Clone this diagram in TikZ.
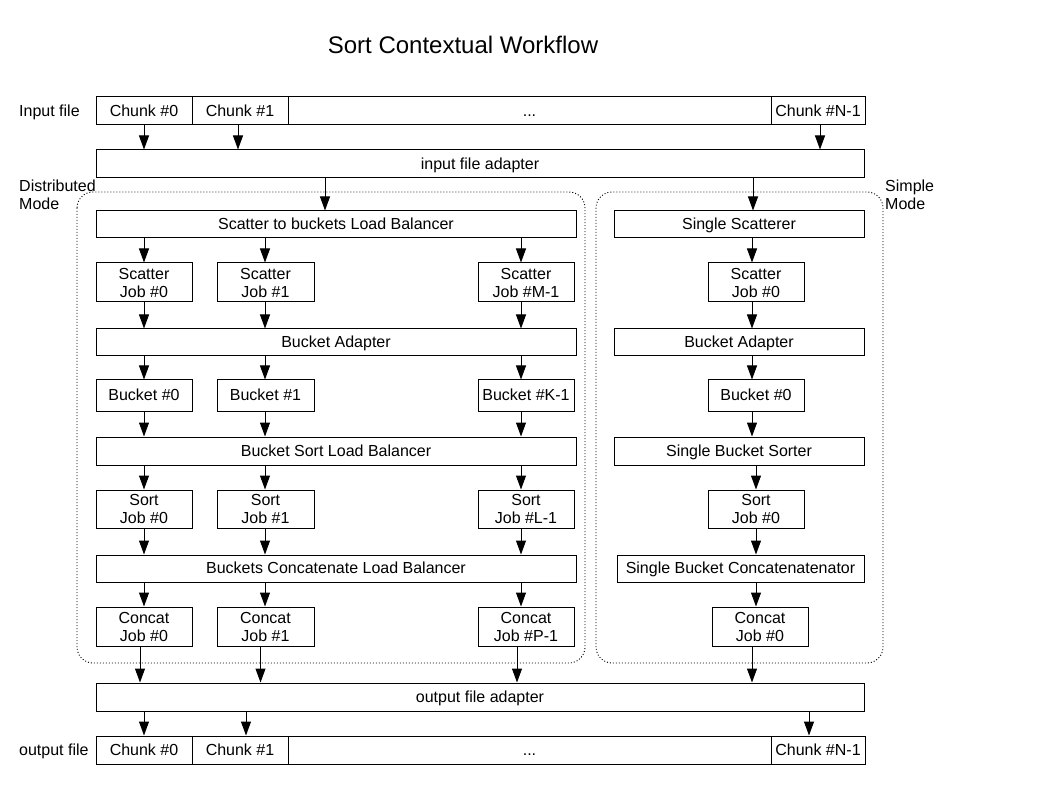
\documentclass[tikz,border=0pt]{standalone}
\usepackage{fontspec}
\setmainfont{Liberation Sans}
\usetikzlibrary{arrows.meta}
\newcommand\bx[6]{\node[box, minimum width=#4pt, minimum height=#5pt] (#1) at (#2,#3) {#6};}
\newcommand\bxs[6]{\node[box, oneline, minimum width=#4pt, minimum height=#5pt] (#1) at (#2,#3) {#6};}
% arrow from source south to target north, x relative to target
\newcommand\dnT[3]{\path ([xshift=#3pt]#2.north) coordinate (tmpc); \draw[arr] (tmpc |- #1.south) -- (tmpc);}
% arrow from source south to target north, x relative to source
\newcommand\dnS[3]{\path ([xshift=#3pt]#1.south) coordinate (tmpc); \draw[arr] (tmpc) -- (tmpc |- #2.north);}
\begin{document}
\begin{tikzpicture}[x=1pt,y=-1pt,
  box/.style={draw, line width=1pt, inner sep=0pt, align=center, font=\fontsize{16}{18}\selectfont},
  oneline/.style={text height=12.5pt, text depth=2pt},
  lbl/.style={inner sep=0pt, font=\fontsize{16}{18}\selectfont, anchor=base west},
  arr/.style={line width=1pt, -{Triangle[length=14pt,width=10pt]}},
  modebox/.style={line width=0.9pt, dash pattern=on 1pt off 2pt, rounded corners=16pt}]
\fill[white] (0,0) rectangle (1058,794);
\useasboundingbox (0,0) rectangle (1058,794);

\node[inner sep=0pt, font=\fontsize{24}{28}\selectfont] (title) at (463,45) {Sort Contextual Workflow};

% mode boxes
\draw[modebox] (77,192) rectangle (585,663);
\draw[modebox] (596,192) rectangle (883,663);
\node[lbl] (dmode1) at (19,191.7) {Distributed};
\node[lbl] (dmode2) at (19,209.5) {Mode};
\node[lbl] (smode1) at (885,191.7) {Simple};
\node[lbl] (smode2) at (885,209.5) {Mode};

% input row
\node[lbl] (inlbl) at (19,116.5) {Input file};
\bxs{in0}{144}{111}{96}{28}{Chunk \#0}
\bxs{in1}{240}{111}{96}{28}{Chunk \#1}
\bxs{indots}{529.5}{111}{483}{28}{...}
\bxs{inN}{818}{111}{94}{28}{Chunk \#N-1}
\bxs{iad}{480}{164}{768}{28}{input file adapter}

% distributed column
\bxs{slb}{336}{224.5}{480}{27}{Scatter to buckets Load Balancer}
\bx{sj0}{144}{282.5}{96}{39}{Scatter\\Job \#0}
\bx{sj1}{265.5}{282.5}{97}{39}{Scatter\\Job \#1}
\bx{sjM}{526}{282.5}{96}{39}{Scatter\\Job \#M-1}
\bxs{ba}{336}{342.5}{480}{27}{Bucket Adapter}
\bxs{b0}{144}{395.5}{96}{31}{Bucket \#0}
\bxs{b1}{265.5}{395.5}{97}{31}{Bucket \#1}
\bxs{bK}{526}{395.5}{96}{31}{Bucket \#K-1}
\bxs{bslb}{336}{451}{480}{28}{Bucket Sort Load Balancer}
\bx{so0}{144}{509}{96}{38}{Sort\\Job \#0}
\bx{so1}{265.5}{509}{97}{38}{Sort\\Job \#1}
\bx{soL}{526}{509}{96}{38}{Sort\\Job \#L-1}
\bxs{clb}{336}{568.5}{480}{27}{Buckets Concatenate Load Balancer}
\bx{cj0}{144}{626.5}{96}{39}{Concat\\Job \#0}
\bx{cj1}{265.5}{626.5}{97}{39}{Concat\\Job \#1}
\bx{cjP}{526}{626.5}{96}{39}{Concat\\Job \#P-1}

% simple column
\bxs{ss}{739}{224.5}{250}{27}{Single Scatterer}
\bx{ssj}{756}{282.5}{96}{39}{Scatter\\Job \#0}
\bxs{sba}{739}{342.5}{250}{27}{Bucket Adapter}
\bxs{sb0}{756}{395.5}{96}{31}{Bucket \#0}
\bxs{sbs}{739}{451}{250}{28}{Single Bucket Sorter}
\bx{sso}{756}{509}{96}{38}{Sort\\Job \#0}
\bxs{sbc}{740.5}{568.5}{247}{27}{Single Bucket Concatenatenator}
\bx{scj}{760}{626.5}{96}{39}{Concat\\Job \#0}

% output
\bxs{oad}{480}{697}{768}{28}{output file adapter}
\node[lbl] (outlbl) at (19,755) {output file};
\bxs{out0}{144}{750}{96}{28}{Chunk \#0}
\bxs{out1}{240}{750}{96}{28}{Chunk \#1}
\bxs{outdots}{529.5}{750}{483}{28}{...}
\bxs{outN}{818}{750}{94}{28}{Chunk \#N-1}

% arrows: input
\dnS{in0}{iad}{0}
\dnS{in1}{iad}{-2}
\dnS{inN}{iad}{2}
\dnT{iad}{slb}{-11}
\dnT{iad}{ss}{14}

% distributed arrows
\dnT{slb}{sj0}{0}
\dnT{slb}{sj1}{-0.5}
\dnT{slb}{sjM}{-5}
\dnS{sj0}{ba}{0}
\dnS{sj1}{ba}{-0.5}
\dnS{sjM}{ba}{-5}
\dnT{ba}{b0}{0}
\dnT{ba}{b1}{-0.5}
\dnT{ba}{bK}{-5}
\dnS{b0}{bslb}{0}
\dnS{b1}{bslb}{-0.5}
\dnS{bK}{bslb}{-5}
\dnT{bslb}{so0}{0}
\dnT{bslb}{so1}{-0.5}
\dnT{bslb}{soL}{-5}
\dnS{so0}{clb}{0}
\dnS{so1}{clb}{-0.5}
\dnS{soL}{clb}{-5}
\dnT{clb}{cj0}{0}
\dnT{clb}{cj1}{-0.5}
\dnT{clb}{cjP}{-5}
\dnS{cj0}{oad}{-4}
\dnS{cj1}{oad}{-5}
\dnS{cjP}{oad}{-9}

% simple arrows
\dnT{ss}{ssj}{-4}
\dnS{ssj}{sba}{-4}
\dnT{sba}{sb0}{-4}
\dnS{sb0}{sbs}{-4}
\dnT{sbs}{sso}{0}
\dnS{sso}{sbc}{0}
\dnT{sbc}{scj}{-4}
\dnS{scj}{oad}{-8}

% output arrows
\dnT{oad}{out0}{0}
\dnT{oad}{out1}{6}
\dnT{oad}{outN}{-9}
\end{tikzpicture}
\end{document}
